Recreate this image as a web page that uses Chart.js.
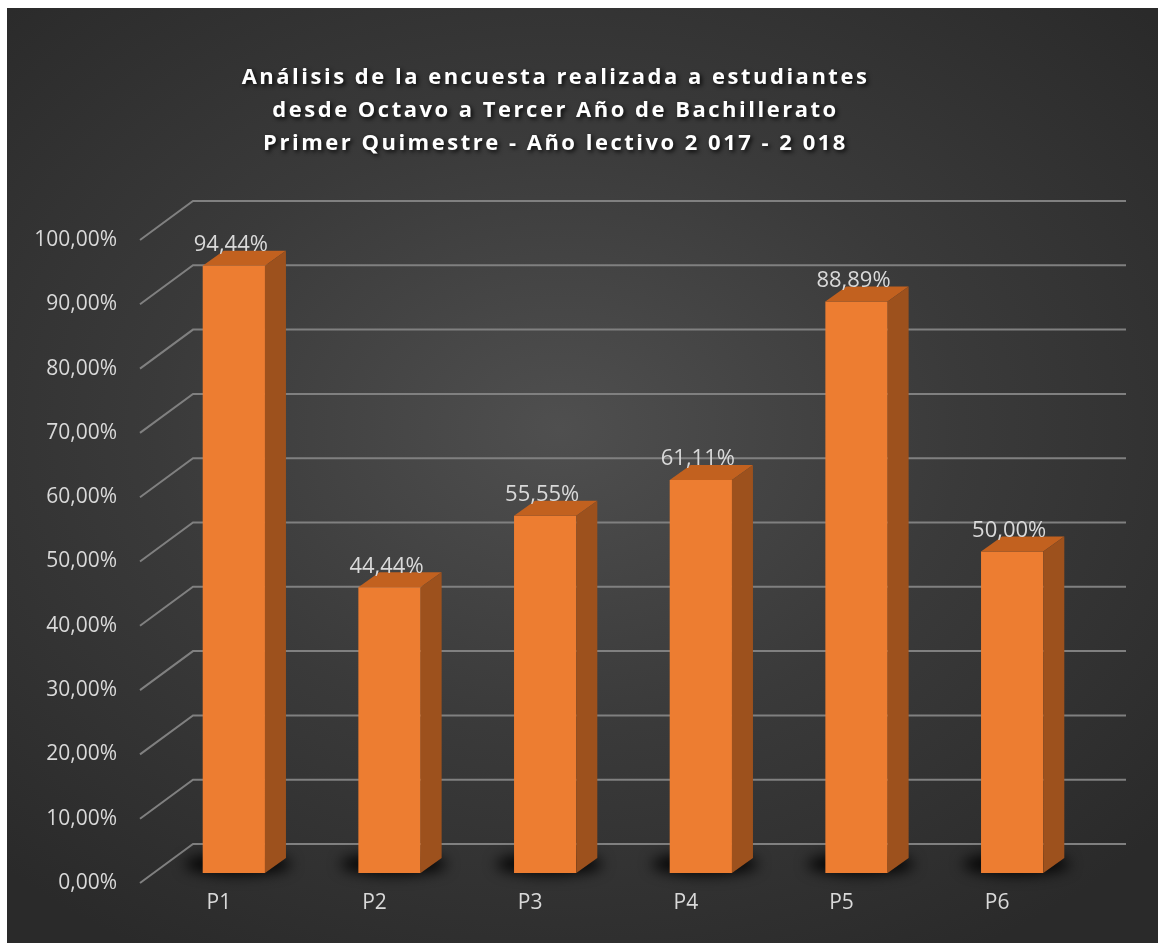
<!DOCTYPE html>
<html lang="es">
<head>
<meta charset="utf-8">
<title>Análisis de la encuesta</title>
<script src="https://cdn.jsdelivr.net/npm/chart.js@4.4.1/dist/chart.umd.min.js"></script>
<style>
    html, body {
        margin: 0;
        padding: 0;
        background: #ffffff;
        overflow: hidden;
    }
    #wrap {
        position: absolute;
        left: 7px;
        top: 8px;
        width: 1151px;
        height: 935px;
        background: radial-gradient(ellipse 70% 65% at 48% 45%, #4f4f4f 0%, #3a3a3a 50%, #2a2a2a 100%);
    }
</style>
</head>
<body>
<div id="wrap"><canvas id="chart" width="1151" height="935"></canvas></div>
<script>
// Survey results per question
const questions = ['P1', 'P2', 'P3', 'P4', 'P5', 'P6'];
const percentages = [94.44, 44.44, 55.55, 61.11, 88.89, 50.00];

// Value axis
const axisMin = 0;
const axisMax = 100;
const axisStep = 10;

const titleLines = [
    'Análisis de la encuesta realizada a estudiantes',
    'desde Octavo a Tercer Año de Bachillerato',
    'Primer Quimestre - Año lectivo 2 017 - 2 018'
];

const FONT = '"Open Sans", "DejaVu Sans", sans-serif';
const TEXT_GREY = '#d9d9d9';

// Depth of the 3D boxes and of the back wall (px)
const BAR_DEPTH = { dx: 21, dy: -15 };
const WALL = { backDx: 37, backDy: -29, frontDx: -16, frontDy: 10, rightDx: 36 };

// Spanish style percentage: 94,44%
function formatPct(v) {
    return Number(v).toFixed(2).replace('.', ',') + '%';
}

// Wall gridlines: a diagonal on the side wall and a line along the back wall
const wallGrid = {
    id: 'wallGrid',
    beforeDatasetsDraw(chart) {
        const { ctx, chartArea, scales } = chart;
        const y = scales.y;
        ctx.save();
        ctx.strokeStyle = '#808080';
        ctx.lineWidth = 2;
        y.ticks.forEach(t => {
            const py = y.getPixelForValue(t.value);
            ctx.beginPath();
            ctx.moveTo(chartArea.left + WALL.frontDx, py + WALL.frontDy);
            ctx.lineTo(chartArea.left + WALL.backDx, py + WALL.backDy);
            ctx.lineTo(chartArea.right + WALL.rightDx, py + WALL.backDy);
            ctx.stroke();
        });

        // soft shadow on the floor under each box
        const meta = chart.getDatasetMeta(0);
        ctx.filter = 'blur(7px)';
        ctx.fillStyle = 'rgba(0,0,0,0.9)';
        meta.data.forEach(bar => {
            const w = bar.width;
            ctx.beginPath();
            ctx.ellipse(bar.x + 4, bar.base - 9, w / 2 + 22, 11, 0, 0, Math.PI * 2);
            ctx.fill();
        });
        ctx.restore();
    }
};

// Top and side faces of each box, then the value label
const boxes3d = {
    id: 'boxes3d',
    afterDatasetsDraw(chart) {
        const { ctx } = chart;
        const meta = chart.getDatasetMeta(0);
        const { dx, dy } = BAR_DEPTH;
        ctx.save();
        meta.data.forEach((bar, i) => {
            const l = bar.x - bar.width / 2;
            const r = bar.x + bar.width / 2;
            const top = bar.y;
            const base = bar.base;

            // top face
            ctx.fillStyle = '#c2611f';
            ctx.beginPath();
            ctx.moveTo(l, top);
            ctx.lineTo(l + dx, top + dy);
            ctx.lineTo(r + dx, top + dy);
            ctx.lineTo(r, top);
            ctx.closePath();
            ctx.fill();

            // side face
            ctx.fillStyle = '#9d511d';
            ctx.beginPath();
            ctx.moveTo(r, top);
            ctx.lineTo(r + dx, top + dy);
            ctx.lineTo(r + dx, base + dy);
            ctx.lineTo(r, base);
            ctx.closePath();
            ctx.fill();

            // value label
            ctx.fillStyle = TEXT_GREY;
            ctx.font = '22px ' + FONT;
            ctx.textAlign = 'center';
            ctx.textBaseline = 'bottom';
            ctx.fillText(formatPct(percentages[i]), bar.x - 3, top + dy + 5);
        });
        ctx.restore();
    }
};

// Letter spacing and drop shadow for the title block
const titleStyle = {
    id: 'titleStyle',
    afterLayout(chart) {
        const block = chart.titleBlock;
        if (!block || block._styled) return;
        const draw = block.draw.bind(block);
        block.draw = function () {
            const ctx = chart.ctx;
            ctx.save();
            ctx.letterSpacing = '2.5px';
            ctx.shadowColor = 'rgba(0,0,0,0.85)';
            ctx.shadowBlur = 4;
            ctx.shadowOffsetX = 2;
            ctx.shadowOffsetY = 2;
            ctx.translate(7, 0);
            draw();
            ctx.restore();
        };
        block._styled = true;
    }
};

new Chart(document.getElementById('chart'), {
    type: 'bar',
    data: {
        labels: questions,
        datasets: [{
            data: percentages,
            backgroundColor: '#ed7d31',
            borderWidth: 0,
            barPercentage: 0.4,
            categoryPercentage: 1.0
        }]
    },
    options: {
        responsive: false,
        animation: false,
        layout: {
            padding: { left: 0, right: 68, top: 0, bottom: 0 }
        },
        plugins: {
            legend: { display: false },
            tooltip: { enabled: false },
            title: {
                display: true,
                text: titleLines,
                color: '#ffffff',
                font: { family: FONT, size: 22, weight: 'bold', lineHeight: 1.5 },
                padding: { top: 53, bottom: 70 }
            }
        },
        scales: {
            x: {
                grid: { display: false, drawTicks: false },
                border: { display: false },
                ticks: {
                    color: TEXT_GREY,
                    font: { family: FONT, size: 21 },
                    padding: 17,
                    labelOffset: -15
                },
                afterFit(scale) { scale.height = 70; }
            },
            y: {
                min: axisMin,
                max: axisMax,
                grid: { display: false, drawTicks: false },
                border: { display: false },
                ticks: {
                    stepSize: axisStep,
                    color: TEXT_GREY,
                    font: { family: FONT, size: 21 },
                    padding: 39,
                    labelOffset: 10,
                    callback: v => formatPct(v)
                },
                afterFit(scale) { scale.width = 149; }
            }
        }
    },
    plugins: [wallGrid, boxes3d, titleStyle]
});
</script>
</body>
</html>
